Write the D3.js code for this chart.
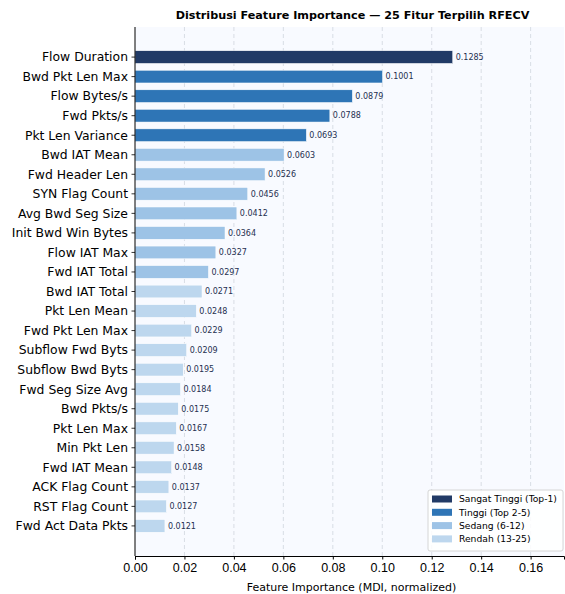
<!DOCTYPE html>
<html>
<head>
<meta charset="utf-8">
<script src="https://cdn.jsdelivr.net/npm/d3@7"></script>
<style>
  body { margin: 0; background: #fff; }
  svg { font-family: "DejaVu Sans", sans-serif; }
</style>
</head>
<body>
<div id="chart"></div>
<script>
const features = [
  'Flow Duration', 'Bwd Pkt Len Max', 'Flow Bytes/s', 'Fwd Pkts/s', 'Pkt Len Variance',
  'Bwd IAT Mean', 'Fwd Header Len', 'SYN Flag Count', 'Avg Bwd Seg Size', 'Init Bwd Win Bytes',
  'Flow IAT Max', 'Fwd IAT Total', 'Bwd IAT Total', 'Pkt Len Mean', 'Fwd Pkt Len Max',
  'Subflow Fwd Byts', 'Subflow Bwd Byts', 'Fwd Seg Size Avg', 'Bwd Pkts/s', 'Pkt Len Max',
  'Min Pkt Len', 'Fwd IAT Mean', 'ACK Flag Count', 'RST Flag Count', 'Fwd Act Data Pkts'
];
const importance = [
  0.1285, 0.1001, 0.0879, 0.0788, 0.0693,
  0.0603, 0.0526, 0.0456, 0.0412, 0.0364,
  0.0327, 0.0297, 0.0271, 0.0248, 0.0229,
  0.0209, 0.0195, 0.0184, 0.0175, 0.0167,
  0.0158, 0.0148, 0.0137, 0.0127, 0.0121
];
const tiers = ['Sangat Tinggi (Top-1)', 'Tinggi (Top 2-5)', 'Sedang (6-12)', 'Rendah (13-25)'];
const tierColors = ['#213a66', '#2e75b6', '#9dc3e6', '#bdd7ee'];
const xTicks = [0, 0.02, 0.04, 0.06, 0.08, 0.10, 0.12, 0.14, 0.16];

const data = features.map((f, i) => ({
  name: f, value: importance[i],
  tier: i === 0 ? 0 : i < 5 ? 1 : i < 12 ? 2 : 3
}));

const W = 565, H = 594;
const margin = { top: 27, right: 1, bottom: 38, left: 135 };
const width = W - margin.left - margin.right;
const height = H - margin.top - margin.bottom;

const svg = d3.select('#chart').append('svg')
  .attr('width', W).attr('height', H);

svg.append('text')
  .attr('x', margin.left + width / 2 + 3).attr('y', 19)
  .attr('text-anchor', 'middle')
  .style('font-size', '11.2px').style('font-weight', 'bold')
  .text('Distribusi Feature Importance — 25 Fitur Terpilih RFECV');

const g = svg.append('g')
  .attr('transform', 'translate(' + margin.left + ',' + margin.top + ')');

g.append('rect').attr('width', width).attr('height', height).attr('fill', '#f8faff');

const x = d3.scaleLinear().domain([0, 0.1735]).range([0, width]);
const y = d3.scaleLinear().domain([-1.54, features.length - 1 + 1.54]).range([0, height]);
const bh = (y(1) - y(0)) * 0.65;

// grid
g.selectAll('.grid').data(xTicks.slice(1)).enter().append('line')
  .attr('x1', d => x(d)).attr('x2', d => x(d))
  .attr('y1', 0).attr('y2', height)
  .attr('stroke', '#d0d5de').attr('stroke-width', 0.8)
  .attr('stroke-dasharray', '4,3');

g.selectAll('.bar').data(data).enter().append('rect')
  .attr('x', 0)
  .attr('y', (d, i) => y(i) - bh / 2)
  .attr('width', d => x(d.value))
  .attr('height', bh)
  .attr('fill', d => tierColors[d.tier])
  .attr('stroke', '#fff').attr('stroke-width', 0.5);

g.selectAll('.lbl').data(data).enter().append('text')
  .attr('x', d => x(d.value) + 3)
  .attr('y', (d, i) => y(i))
  .attr('dy', '0.35em')
  .style('font-size', '8px')
  .attr('fill', '#1f3050')
  .text(d => d.value.toFixed(4));

// y axis
const ya = g.append('g');
ya.append('line').attr('x1', 0).attr('x2', 0).attr('y1', 0).attr('y2', height)
  .attr('stroke', '#000').attr('stroke-width', 1);
ya.selectAll('.yt').data(data).enter().append('line')
  .attr('x1', -3.5).attr('x2', 0)
  .attr('y1', (d, i) => y(i)).attr('y2', (d, i) => y(i))
  .attr('stroke', '#000').attr('stroke-width', 0.8);
ya.selectAll('.yl').data(data).enter().append('text')
  .attr('x', -7).attr('y', (d, i) => y(i)).attr('dy', '0.35em')
  .attr('text-anchor', 'end')
  .style('font-size', '12.4px')
  .text(d => d.name);

// x axis
const xa = g.append('g').attr('transform', 'translate(0,' + height + ')')
  .call(d3.axisBottom(x).tickValues(xTicks).tickFormat(d3.format('.2f')).tickSize(3.5).tickPadding(3.5));
xa.select('.domain').attr('stroke-width', 1);
xa.selectAll('text').style('font-size', '12.5px').attr('fill', '#000');

svg.append('text')
  .attr('x', margin.left + width / 2 + 2).attr('y', H - 3)
  .attr('text-anchor', 'middle')
  .style('font-size', '11px')
  .text('Feature Importance (MDI, normalized)');

// legend
const lg = g.append('g').attr('transform', 'translate(' + (width - 136) + ',' + (height - 66) + ')');
lg.append('rect').attr('width', 135).attr('height', 61).attr('rx', 2)
  .attr('fill', '#fff').attr('fill-opacity', 0.85)
  .attr('stroke', '#ccc').attr('stroke-width', 0.8);
tiers.forEach((t, i) => {
  lg.append('rect').attr('x', 4).attr('y', 5.5 + i * 13.3).attr('width', 20).attr('height', 7)
    .attr('fill', tierColors[i]);
  lg.append('text').attr('x', 31).attr('y', 9 + i * 13.3).attr('dy', '0.35em')
    .style('font-size', '9.2px').text(t);
});
</script>
</body>
</html>
